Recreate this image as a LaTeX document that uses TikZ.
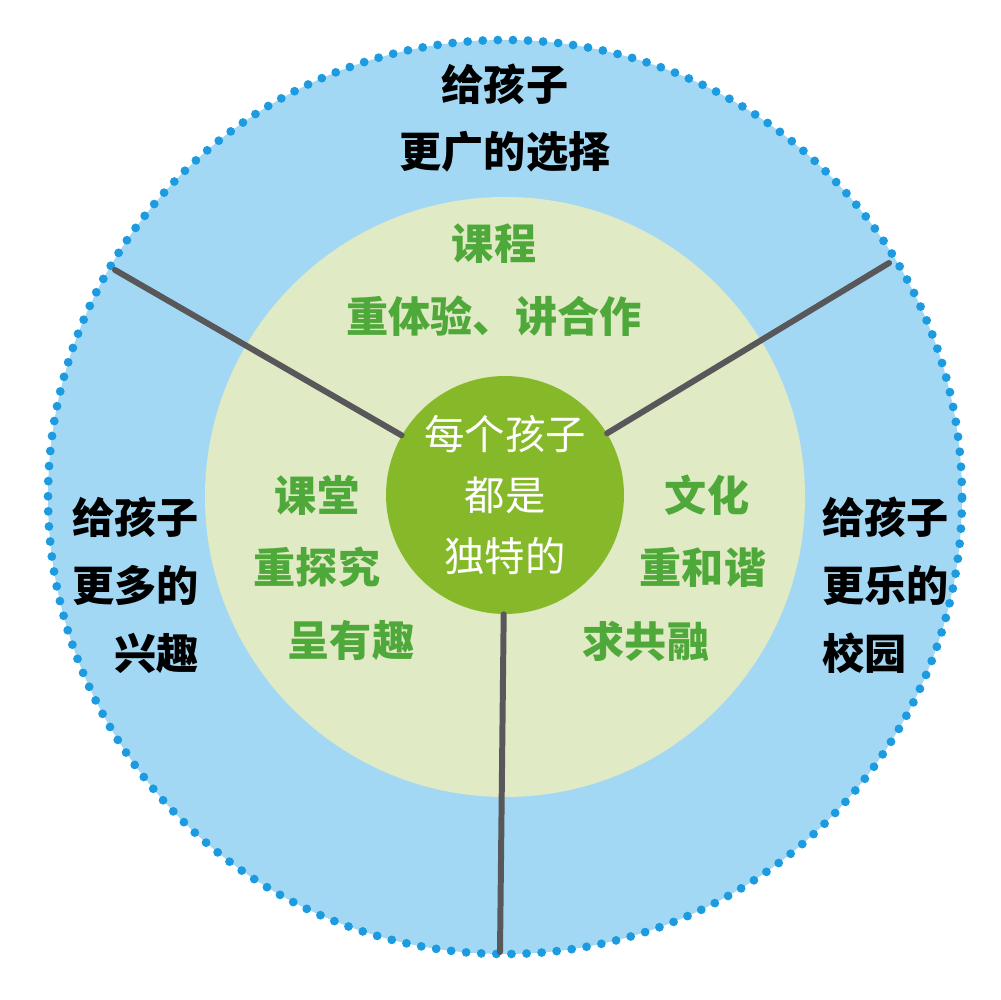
\documentclass[tikz,border=0pt]{standalone}
\usepackage{fontspec}
\newfontfamily\cjk{Noto Sans CJK SC}
\usepackage{xcolor}
\definecolor{sky}{HTML}{A3D8F4}
\definecolor{dotblue}{HTML}{1C9BE0}
\definecolor{sage}{HTML}{E0EAC4}
\definecolor{leaf}{HTML}{86B929}
\definecolor{grass}{HTML}{4FA83A}
\definecolor{spokegray}{HTML}{58575A}
\usepackage{tikz}
\usetikzlibrary{positioning,calc}

\begin{document}
\begin{tikzpicture}[
  x=0.02cm,y=0.02cm,
  core/.style={circle,fill=leaf,inner sep=0pt,minimum size=4.76cm,text=white,align=center,
    font=\cjk\fontsize{23}{34.6}\selectfont},
  lbl/.style={inner sep=0pt,font=\cjk\bfseries\fontsize{24}{38.6}\selectfont},
  grn/.style={inner sep=0pt,text=grass,font=\cjk\bfseries\fontsize{24}{41.4}\selectfont},
  spoke/.style={line width=3.4pt,draw=spokegray,line cap=round}
]
\useasboundingbox (0,0) rectangle (1000,1000);
% rings
\fill[sky] (505,503) circle (457);
\draw[dotblue,line width=5pt,line cap=round,dash pattern=on 0pt off 0.3022cm]
  (505,503) circle (457);
\fill[sage] (505,503) circle (300);

% centre and spokes
\node[core] (core) at (505,505) {每个孩子\\都是\\独特的};
\coordinate (eL) at (115,730);
\coordinate (eR) at (889,737);
\coordinate (eB) at (500,48);
\draw[spoke] (core) -- (eL);
\draw[spoke] (core) -- (eR);
\draw[spoke] (core) -- (eB);

% outer labels
\node[lbl,align=center] (top) at (505,882) {给孩子\\更广的选择};
\node[lbl,align=right,anchor=east] (left) at (199,415) {给孩子\\更多的\\兴趣};
\node[lbl,align=left,anchor=west] (right) at (822,415) {给孩子\\更乐的\\校园};

% inner labels
\node[grn,align=center] (course) at (494,720) {课程\\重体验、讲合作};
\node[grn] (ketang) at (317,505) {课堂};
\node[grn] (tanjiu) at (317,433) {重探究};
\node[grn] (youqu) at (351,359) {呈有趣};
\node[grn] (wenhua) at (707,505) {文化};
\node[grn] (hexie) at (703,433) {重和谐};
\node[grn] (gongrong) at (646,359) {求共融};
\end{tikzpicture}
\end{document}
